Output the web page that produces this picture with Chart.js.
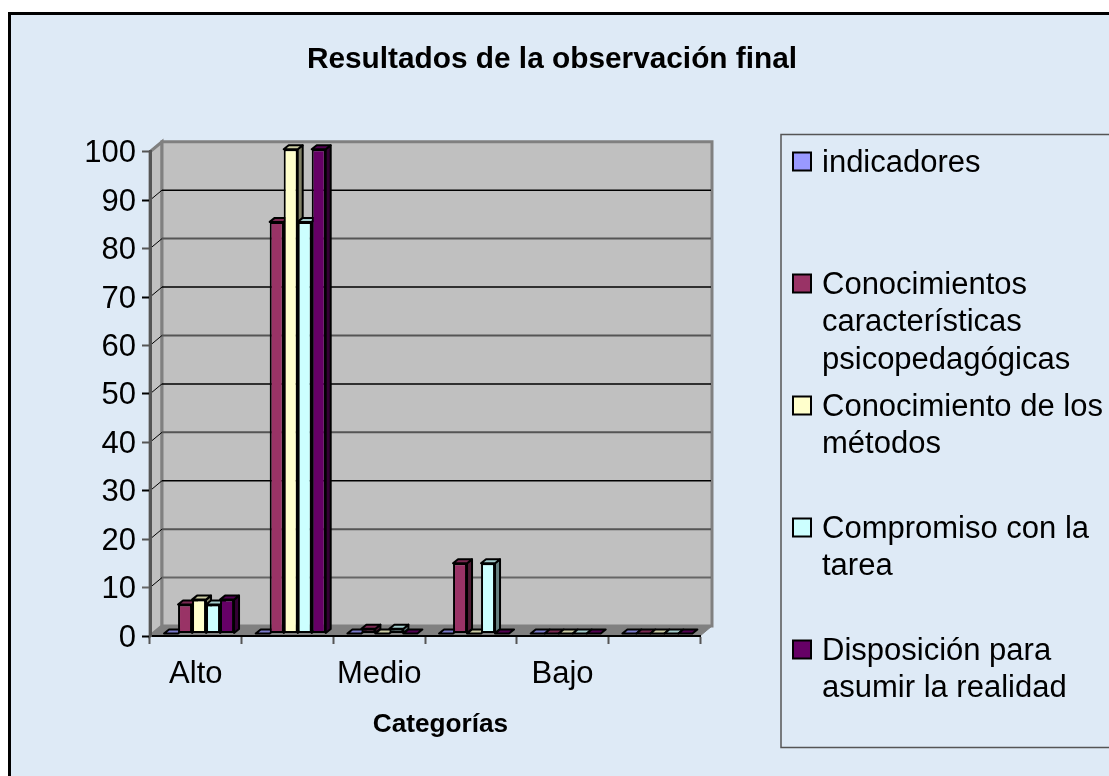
<!DOCTYPE html>
<html>
<head>
<meta charset="utf-8">
<title>Resultados de la observación final</title>
<script src="https://cdn.jsdelivr.net/npm/chart.js@4"></script>
<style>
html, body { margin: 0; padding: 0; background: #fff; overflow: hidden; }
canvas { display: block; }
</style>
</head>
<body>
<canvas id="chart" width="1109" height="776"></canvas>
<script>
var categories = ['Alto', '', 'Medio', '', 'Bajo', ''];
var seriesNames = [
    'indicadores',
    'Conocimientos características psicopedagógicas',
    'Conocimiento de los métodos',
    'Compromiso con la tarea',
    'Disposición para asumir la realidad'
];
var indicadores = [0, 0, 0, 0, 0, 0];
var conocimientos = [6, 85, 1, 14.5, 0, 0];
var metodos = [7, 100, 0, 0, 0, 0];
var compromiso = [6, 85, 1, 14.5, 0, 0];
var disposicion = [7, 100, 0, 0, 0, 0];
var seriesValues = [indicadores, conocimientos, metodos, compromiso, disposicion];
var seriesColors = ['#9999FF', '#993366', '#FFFFCC', '#CCFFFF', '#660066'];

var FONT = '"Liberation Sans", Arial, sans-serif';
var DEPTH_X = 12, DEPTH_Y = 10;     // depth of the walls
var BAR_DX = 5, BAR_DY = 4;         // depth of one bar
var SHIFT_X = 3.2, SHIFT_Y = -2.5;  // bars stand a bit behind the axis plane

function shade(hex, f) {
    var n = parseInt(hex.slice(1), 16);
    return 'rgb(' + Math.round((n >> 16) * f) + ',' + Math.round(((n >> 8) & 255) * f) + ',' + Math.round((n & 255) * f) + ')';
}

// gridlines come out black or grey in turn in the source
function gridColor(value) {
    if (value === 0) return '#000000';
    if (value === 10) return '#666666';
    return value / 10 % 2 === 1 ? '#000000' : '#555555';
}

function poly(ctx, pts, fill, stroke) {
    ctx.beginPath();
    pts.forEach(function(p, i) { i ? ctx.lineTo(p[0], p[1]) : ctx.moveTo(p[0], p[1]); });
    ctx.closePath();
    ctx.fillStyle = fill;
    ctx.fill();
    if (stroke) {
        ctx.strokeStyle = stroke;
        ctx.stroke();
    }
}

function wrapText(ctx, text, maxWidth) {
    var lines = [], line = '';
    text.split(' ').forEach(function(word) {
        var next = line ? line + ' ' + word : word;
        if (line && ctx.measureText(next).width > maxWidth) {
            lines.push(line);
            line = word;
        } else {
            line = next;
        }
    });
    lines.push(line);
    return lines;
}

var scenePlugin = {
    id: 'scene',
    beforeDraw: function(chart) {
        var ctx = chart.ctx, a = chart.chartArea, y = chart.scales.y;
        ctx.save();
        // page background and outer frame
        ctx.fillStyle = '#DEEAF6';
        ctx.fillRect(9, 13, 1100, 763);
        ctx.strokeStyle = '#000';
        ctx.lineWidth = 3;
        ctx.beginPath();
        ctx.moveTo(9.5, 776);
        ctx.lineTo(9.5, 13.5);
        ctx.lineTo(1109, 13.5);
        ctx.stroke();
        // walls and floor
        ctx.lineWidth = 3;
        poly(ctx, [[a.left, a.top], [a.left + DEPTH_X, a.top - DEPTH_Y], [a.left + DEPTH_X, a.bottom - DEPTH_Y], [a.left, a.bottom]], '#C0C0C0', '#808080');
        poly(ctx, [[a.left + DEPTH_X, a.top - DEPTH_Y], [a.right + DEPTH_X, a.top - DEPTH_Y], [a.right + DEPTH_X, a.bottom - DEPTH_Y], [a.left + DEPTH_X, a.bottom - DEPTH_Y]], '#C0C0C0', '#808080');
        ctx.lineWidth = 1;
        poly(ctx, [[a.left, a.bottom], [a.left + DEPTH_X, a.bottom - DEPTH_Y], [a.right + DEPTH_X, a.bottom - DEPTH_Y], [a.right, a.bottom]], '#808080', '#808080');
        // gridlines on the back and side walls
        y.ticks.forEach(function(t) {
            if (t.value === 0 || t.value === 100) return;
            var py = y.getPixelForValue(t.value);
            ctx.strokeStyle = '#000';
            ctx.lineWidth = 1;
            ctx.beginPath();
            ctx.moveTo(a.left, py);
            ctx.lineTo(a.left + DEPTH_X, py - DEPTH_Y);
            ctx.stroke();
            ctx.strokeStyle = gridColor(t.value);
            ctx.lineWidth = gridColor(t.value) === '#000000' ? 1.5 : 2;
            ctx.beginPath();
            ctx.moveTo(a.left + DEPTH_X, py - DEPTH_Y);
            ctx.lineTo(a.right + DEPTH_X - 1, py - DEPTH_Y);
            ctx.stroke();
        });
        ctx.restore();
    },
    beforeDatasetsDraw: function(chart) {
        var ctx = chart.ctx;
        ctx.save();
        ctx.translate(SHIFT_X, SHIFT_Y);
        ctx.lineWidth = 2;
        ctx.lineJoin = 'round';
        // sides and tops first, from left to right; the library paints the fronts over them
        categories.forEach(function(c, k) {
            seriesValues.forEach(function(v, i) {
                var el = chart.getDatasetMeta(i).data[k];
                var x0 = el.x - el.width / 2, x1 = el.x + el.width / 2, t = el.y, b = el.base;
                if (b > t) {
                    poly(ctx, [[x1, t], [x1 + BAR_DX, t - BAR_DY], [x1 + BAR_DX, b - BAR_DY], [x1, b]], shade(seriesColors[i], 0.5), '#000');
                }
                poly(ctx, [[x0, t], [x0 + BAR_DX, t - BAR_DY], [x1 + BAR_DX, t - BAR_DY], [x1, t]], shade(seriesColors[i], 0.8), '#000');
            });
        });
    },
    afterDatasetsDraw: function(chart) {
        chart.ctx.restore();
    },
    afterDraw: function(chart) {
        var ctx = chart.ctx;
        ctx.save();
        // axis title sits off-centre in the source, the scale title can't do that
        ctx.fillStyle = '#000';
        ctx.font = 'bold 26.2px ' + FONT;
        ctx.textAlign = 'center';
        ctx.textBaseline = 'middle';
        ctx.fillText('Categorías', 440.5, 724.5);
        // legend box runs off the right edge like the source
        ctx.strokeStyle = '#555';
        ctx.lineWidth = 1.5;
        ctx.beginPath();
        ctx.moveTo(1109, 134.5);
        ctx.lineTo(781, 134.5);
        ctx.lineTo(781, 747.5);
        ctx.lineTo(1109, 747.5);
        ctx.stroke();
        ctx.font = '31px ' + FONT;
        ctx.textAlign = 'left';
        ctx.textBaseline = 'alphabetic';
        seriesNames.forEach(function(name, i) {
            var base = 171.5 + i * 122;
            ctx.lineWidth = 2;
            ctx.fillStyle = seriesColors[i];
            ctx.strokeStyle = '#000';
            ctx.fillRect(793, base - 19, 18, 18);
            ctx.strokeRect(793, base - 19, 18, 18);
            ctx.fillStyle = '#000';
            wrapText(ctx, name, 285).forEach(function(line, j) {
                ctx.fillText(line, 822, base + j * 37.5);
            });
        });
        ctx.restore();
    }
};

new Chart(document.getElementById('chart'), {
    type: 'bar',
    plugins: [scenePlugin],
    data: {
        labels: categories,
        datasets: seriesNames.map(function(name, i) {
            return {
                label: name,
                data: seriesValues[i],
                backgroundColor: seriesColors[i],
                borderColor: '#000',
                borderWidth: 2,
                borderSkipped: false,
                clip: false,
                categoryPercentage: 0.7636,
                barPercentage: 1
            };
        })
    },
    options: {
        responsive: false,
        animation: false,
        events: [],
        layout: { padding: { right: 5 } },
        plugins: {
            legend: { display: false },
            tooltip: { enabled: false },
            title: {
                display: true,
                text: 'Resultados de la observación final',
                color: '#000',
                font: { family: FONT, size: 29.8, weight: 'bold', lineHeight: 1.2 },
                padding: { top: 42, bottom: 74 }
            }
        },
        scales: {
            x: {
                offset: true,
                grid: { drawOnChartArea: false, drawTicks: true, tickLength: 8, tickColor: '#555', tickWidth: 2 },
                border: { color: '#000', width: 2 },
                ticks: { color: '#000', font: { family: FONT, size: 31 }, padding: 12, autoSkip: false, maxRotation: 0, minRotation: 0 },
                afterFit: function(s) { s.height = 140; }
            },
            y: {
                min: 0,
                max: 100,
                grid: {
                    drawOnChartArea: false,
                    drawTicks: true,
                    tickLength: 8,
                    tickColor: function(c) { return gridColor(c.tick.value); },
                    tickWidth: 2
                },
                border: { color: '#555', width: 3 },
                ticks: { stepSize: 10, color: '#000', font: { family: FONT, size: 31 }, padding: 6, labelOffset: 2 },
                afterFit: function(s) { s.width = 150; }
            },
            // empty axis, only reserves the room taken by the legend
            room: {
                type: 'linear',
                position: 'right',
                display: true,
                grid: { display: false },
                border: { display: false },
                ticks: { display: false },
                afterFit: function(s) { s.width = 404; }
            }
        }
    }
});
</script>
</body>
</html>
